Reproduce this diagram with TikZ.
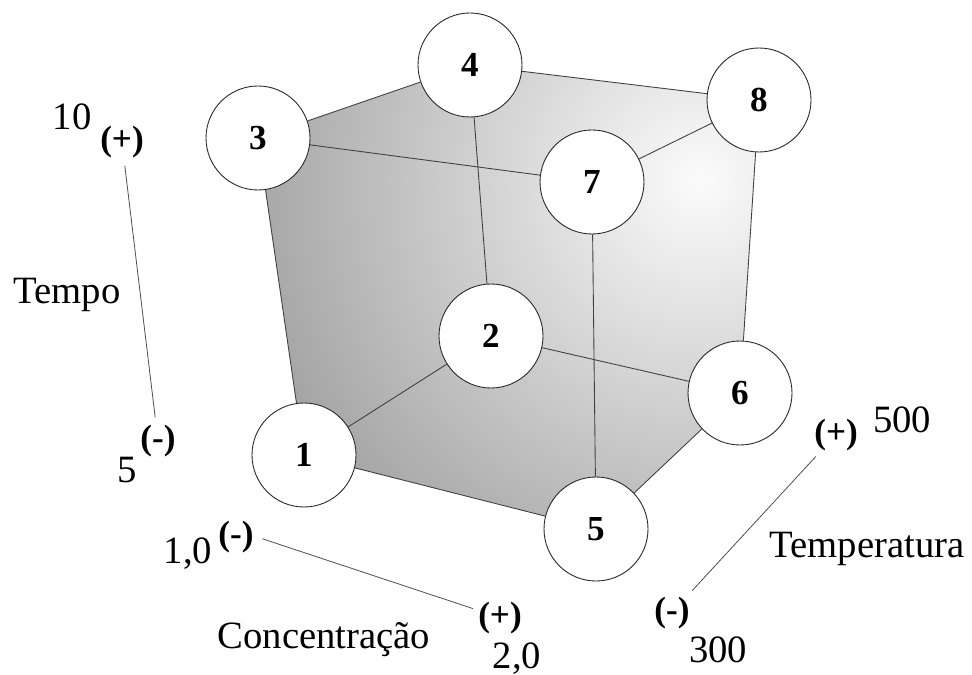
\documentclass[tikz,border=0pt]{standalone}
\usepackage{fontspec}
\setmainfont{Liberation Serif}
\usepackage{tikz}
\usetikzlibrary{calc}
\pgfdeclarelayer{background}
\pgfsetlayers{background,main}

\begin{document}
\begin{tikzpicture}[
			run/.style={circle, draw=black!85, fill=white, line width=0.5pt, minimum size=2.08cm, inner sep=0pt, font=\fontsize{20}{23}\selectfont\bfseries},
			edge/.style={draw=black!75, line width=0.5pt},
			axis/.style={draw=black!70, line width=0.45pt},
			level/.style={inner sep=1pt, anchor=base, font=\fontsize{20}{23}\selectfont\bfseries},
			value/.style={inner sep=0pt, anchor=base, font=\fontsize{22}{26}\selectfont}
			]
			
			\useasboundingbox (0, 0) rectangle (19.44, 13.48);
			
			% --- Cube corners (runs 1-8) ---
			\node[run] (r1) at (6.08, 4.38) {1};
			\node[run] (r2) at (9.82, 6.76) {2};
			\node[run] (r3) at (5.16, 10.72) {3};
			\node[run] (r4) at (9.40, 12.18) {4};
			\node[run] (r5) at (11.92, 2.90) {5};
			\node[run] (r6) at (14.80, 5.62) {6};
			\node[run] (r7) at (11.84, 9.84) {7};
			\node[run] (r8) at (15.18, 11.48) {8};
			
			% --- Cube edges ---
			\foreach \a/\b in {3/4, 4/8, 8/7, 7/3, 1/2, 2/6, 6/5, 5/1, 3/1, 4/2, 8/6, 7/5}
				\draw[edge] (r\a) -- (r\b);
			
			% --- Shaded body of the cube ---
			\begin{pgfonlayer}{background}
				\begin{scope}
					\clip (r3.center) -- (r4.center) -- (r8.center) -- (r6.center) -- (r5.center) -- (r1.center) -- cycle;
					\shade[inner color=gray!3, outer color=gray!80] (14.0, 9.88) circle (10.4);
				\end{scope}
			\end{pgfonlayer}
			
			% --- Tempo axis ---
			\node[value] (t_hi) at (1.44, 10.88) {10};
			\node[level] (t_plus) at (2.44, 10.46) {(+)};
			\node[value] (t_name) at (1.34, 7.40) {Tempo};
			\node[level] (t_minus) at (3.16, 4.50) {(-)};
			\node[value] (t_lo) at (2.54, 3.84) {5};
			\draw[axis, shorten <=3pt, shorten >=3pt] (t_plus) -- (t_minus);
			
			% --- Concentracao axis ---
			\node[value] (c_lo) at (3.76, 2.22) {1,0};
			\node[level] (c_minus) at (4.72, 2.58) {(-)};
			\node[value] (c_name) at (6.48, 0.52) {Concentração};
			\node[level] (c_plus) at (10.00, 0.96) {(+)};
			\node[value] (c_hi) at (10.34, 0.12) {2,0};
			\draw[axis, shorten <=4pt, shorten >=2pt] (c_minus.east) -- (c_plus);
			
			% --- Temperatura axis ---
			\node[level] (p_plus) at (16.72, 4.62) {(+)};
			\node[value] (p_hi) at (18.04, 4.82) {500};
			\node[value] (p_name) at (17.34, 2.34) {Temperatura};
			\node[level] (p_minus) at (13.44, 1.06) {(-)};
			\node[value] (p_lo) at (14.36, 0.24) {300};
			\draw[axis, shorten <=3pt, shorten >=3pt] (p_plus) -- (p_minus);
			
			\end{tikzpicture}
\end{document}
